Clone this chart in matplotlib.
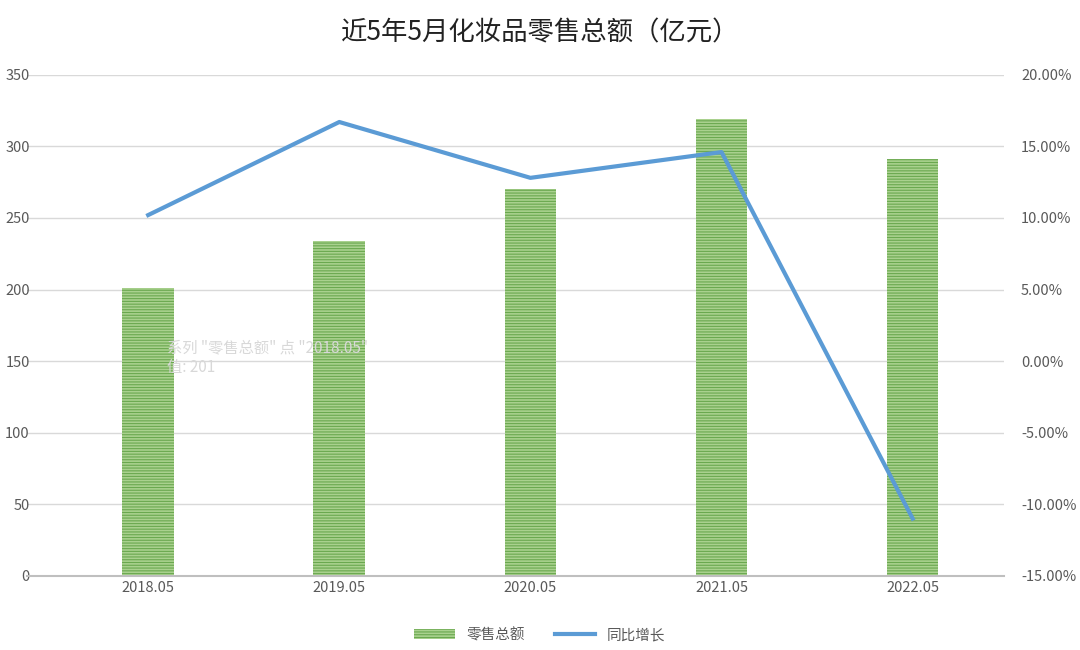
import matplotlib
matplotlib.use("Agg")
import matplotlib.pyplot as plt
from matplotlib.ticker import FuncFormatter

plt.rcParams["font.family"] = ["Noto Sans CJK SC", "DejaVu Sans"]

categories = ["2018.05", "2019.05", "2020.05", "2021.05", "2022.05"]
sales = [201, 234, 270, 319, 291]
growth = [10.2, 16.7, 12.8, 14.6, -11.0]
title = "近5年5月化妆品零售总额（亿元）"

fig = plt.figure(figsize=(10.8, 6.5), dpi=100)
ax = fig.add_axes([0.025, 0.114, 0.905, 0.771])
x = range(len(categories))
plt.rcParams["hatch.linewidth"] = 0.8
ax.bar(x, sales, width=0.27, color="#a9d18e", edgecolor="#6aa84f", hatch="------", linewidth=0, label="零售总额")
ax.set_ylim(0, 350)
ax.set_yticks(range(0, 351, 50))
ax.set_xlim(-0.634, 4.48)
ax.set_xticks(list(x))
ax.set_xticklabels(categories)
ax.grid(axis="y", color="#d9d9d9", linewidth=1)
ax.set_axisbelow(True)
for s in ["top", "right", "left"]:
    ax.spines[s].set_visible(False)
ax.spines["bottom"].set_color("#bfbfbf")
ax.spines["bottom"].set_linewidth(1.5)
ax.tick_params(length=0, labelsize=10.5, colors="#595959")
ax.tick_params(axis="y", pad=-2)

ax2 = ax.twinx()
ax2.plot(list(x), growth, color="#5b9bd5", linewidth=3, label="同比增长")
ax2.set_ylim(-15, 20)
ax2.set_yticks(range(-15, 21, 5))
ax2.yaxis.set_major_formatter(FuncFormatter(lambda v, p: f"{v:.2f}%"))
for s in ax2.spines.values():
    s.set_visible(False)
ax2.tick_params(length=0, labelsize=10.5, colors="#595959", pad=12)

fig.text(0.5, 0.95, title, ha="center", va="center", fontsize=19, color="#222222")
ax.text(0.1, 165, '系列 "零售总额" 点 "2018.05"\n值: 201', fontsize=11, color="#d8d8d8", va="top")

h1, l1 = ax.get_legend_handles_labels()
h2, l2 = ax2.get_legend_handles_labels()
fig.legend(h1 + h2, l1 + l2, loc="center", bbox_to_anchor=(0.5, 0.023), ncol=2, frameon=False, fontsize=10.5, labelcolor="#595959", handlelength=2.8)

fig.savefig("out.png", dpi=100)
